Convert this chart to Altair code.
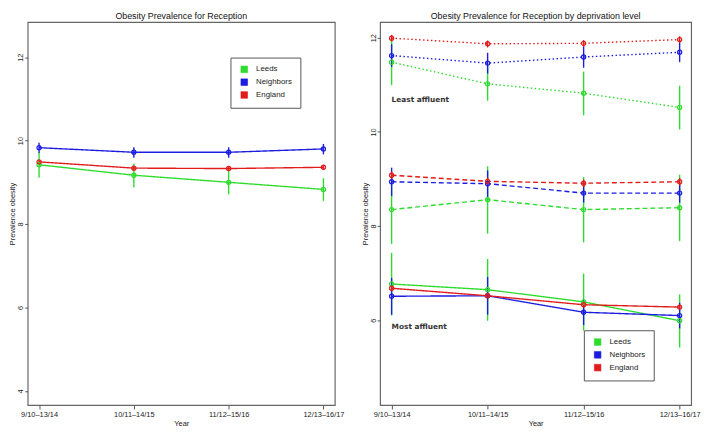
import altair as alt
import pandas as pd

periods = ["9/10–13/14", "10/11–14/15", "11/12–15/16", "12/13–16/17"]
areas = ["Leeds", "Neighbors", "England"]
area_colors = ["#2EDC2E", "#1C1CE0", "#E01C1C"]

# Left panel: overall prevalence (value, half-width of error bar)
overall_leeds = [9.42, 9.17, 9.00, 8.83]
overall_leeds_err = [0.30, 0.28, 0.28, 0.27]
overall_neigh = [9.83, 9.72, 9.72, 9.80]
overall_neigh_err = [0.12, 0.12, 0.12, 0.12]
overall_eng = [9.49, 9.34, 9.33, 9.36]
overall_eng_err = [0.04, 0.04, 0.04, 0.04]

# Right panel: by deprivation level
least_leeds = [11.48, 11.02, 10.82, 10.52]
least_leeds_err = [0.48, 0.35, 0.46, 0.46]
least_neigh = [11.62, 11.46, 11.59, 11.69]
least_neigh_err = [0.24, 0.22, 0.22, 0.20]
least_eng = [11.99, 11.87, 11.88, 11.96]
least_eng_err = [0.07, 0.07, 0.07, 0.07]

mid_leeds = [8.35, 8.56, 8.35, 8.39]
mid_leeds_err = [0.72, 0.71, 0.69, 0.70]
mid_neigh = [8.94, 8.90, 8.70, 8.70]
mid_neigh_err = [0.30, 0.28, 0.20, 0.20]
mid_eng = [9.08, 8.95, 8.91, 8.94]
mid_eng_err = [0.08, 0.08, 0.08, 0.08]

most_leeds = [6.77, 6.65, 6.39, 5.99]
most_leeds_err = [0.66, 0.65, 0.60, 0.56]
most_neigh = [6.51, 6.52, 6.17, 6.10]
most_neigh_err = [0.39, 0.40, 0.27, 0.27]
most_eng = [6.68, 6.52, 6.33, 6.28]
most_eng_err = [0.05, 0.05, 0.05, 0.05]

levels = ["least", "middle", "most"]
level_dash = [[1.5, 2.5], [5, 3], [1, 0]]

annot_text = ["Least affluent", "Most affluent"]
annot_y = [10.67, 5.85]


def rows(area, level, vals, errs):
    return [
        {"period": p, "area": area, "level": level, "value": v,
         "lo": v - e, "hi": v + e}
        for p, v, e in zip(periods, vals, errs)
    ]


left_df = pd.DataFrame(
    rows("Leeds", "most", overall_leeds, overall_leeds_err)
    + rows("Neighbors", "most", overall_neigh, overall_neigh_err)
    + rows("England", "most", overall_eng, overall_eng_err)
)

right_df = pd.DataFrame(
    rows("Leeds", "least", least_leeds, least_leeds_err)
    + rows("Neighbors", "least", least_neigh, least_neigh_err)
    + rows("England", "least", least_eng, least_eng_err)
    + rows("Leeds", "middle", mid_leeds, mid_leeds_err)
    + rows("Neighbors", "middle", mid_neigh, mid_neigh_err)
    + rows("England", "middle", mid_eng, mid_eng_err)
    + rows("Leeds", "most", most_leeds, most_leeds_err)
    + rows("Neighbors", "most", most_neigh, most_neigh_err)
    + rows("England", "most", most_eng, most_eng_err)
)

annot_df = pd.DataFrame({"period": [periods[0]] * 2, "value": annot_y, "label": annot_text})

FONT = "Liberation Sans"
PLOT_H = 389


def make_legend(xy):
    return alt.Legend(
        title=None, orient="none", legendX=xy[0], legendY=xy[1],
        symbolType="square", symbolSize=45,
        symbolStrokeColor="#222", symbolStrokeWidth=0.6,
        labelFontSize=8, labelFont=FONT, labelColor="#222",
        strokeColor="#555", fillColor="white",
        padding=8, rowPadding=3, labelOffset=8, symbolOffset=2)


def panel(df, title, ydomain, yticks, legend_xy, width, annotate=False):
    xscale = alt.Scale(type="point", padding=0.12)
    xenc = alt.X("period:N", sort=periods, title="Year", scale=xscale,
                 axis=alt.Axis(labelAngle=0, tickSize=4, labelPadding=2,
                               titlePadding=1, domain=False, grid=False,
                               labelFontSize=7.5, titleFontSize=7.5,
                               labelColor="#222", titleColor="#222",
                               tickColor="#555", titleFontWeight="normal"))
    yscale = alt.Scale(domain=ydomain, nice=False, zero=False)
    yaxis = alt.Axis(values=yticks, labelAngle=-90, labelAlign="center",
                     labelBaseline="bottom", tickSize=3, labelPadding=0,
                     titlePadding=0, domain=False, grid=False,
                     labelFontSize=7.5, titleFontSize=7.5,
                     labelColor="#222", titleColor="#222", tickColor="#555",
                     titleFontWeight="normal")
    cscale = alt.Scale(domain=areas, range=area_colors)
    color_nolegend = alt.Color("area:N", sort=areas, scale=cscale, legend=None)
    color_legend = alt.Color("area:N", sort=areas, scale=cscale,
                             legend=make_legend(legend_xy))
    dash = alt.StrokeDash("level:N", scale=alt.Scale(domain=levels, range=level_dash),
                          legend=None)

    base = alt.Chart(df)
    legend_layer = base.mark_point(filled=True, shape="square", size=1,
                                   opacity=1).encode(
        x=xenc,
        y=alt.Y("lo:Q", scale=yscale, axis=yaxis, title="Prevalence obesity"),
        color=color_legend,
    )
    bars = base.mark_rule(strokeWidth=1.4).encode(
        x=xenc,
        y=alt.Y("lo:Q", scale=yscale),
        y2="hi:Q",
        color=color_nolegend,
        detail="level:N",
    )
    lines = base.mark_line(strokeWidth=1.4).encode(
        x=xenc,
        y=alt.Y("value:Q", scale=yscale),
        color=color_nolegend,
        strokeDash=dash,
        detail="level:N",
    )
    pts = base.mark_point(filled=False, size=18, strokeWidth=1.2, opacity=1).encode(
        x=xenc,
        y=alt.Y("value:Q", scale=yscale),
        color=color_nolegend,
        detail="level:N",
    )
    layers = [legend_layer, bars, lines, pts]
    if annotate:
        txt = alt.Chart(annot_df).mark_text(
            align="left", baseline="middle", fontSize=7.5, font="DejaVu Sans",
            fontWeight="bold", color="#333"
        ).encode(
            x=alt.X("period:N", sort=periods, scale=xscale),
            y=alt.Y("value:Q", scale=yscale),
            text="label:N",
        )
        layers.append(txt)
    return alt.layer(*layers).properties(
        width=width, height=PLOT_H,
        title=alt.TitleParams(title, fontSize=9, font=FONT, fontWeight="normal",
                              color="#111", offset=1),
    )


left = panel(left_df, "Obesity Prevalence for Reception", [3.66, 12.84],
             [4, 6, 8, 10, 12], (206, 36), 312)
right = panel(right_df, "Obesity Prevalence for Reception by deprivation level",
              [4.2, 12.33], [6, 8, 10, 12], (207, 313), 316, annotate=True)

chart = alt.hconcat(left, right, spacing=16).resolve_scale(
    y="independent", color="independent", strokeDash="independent"
).resolve_legend(color="independent").configure(
    padding=0, font=FONT
).configure_view(stroke="#666", strokeWidth=1.2)

chart.save("out.html", embed_options={"renderer": "svg", "actions": False})
